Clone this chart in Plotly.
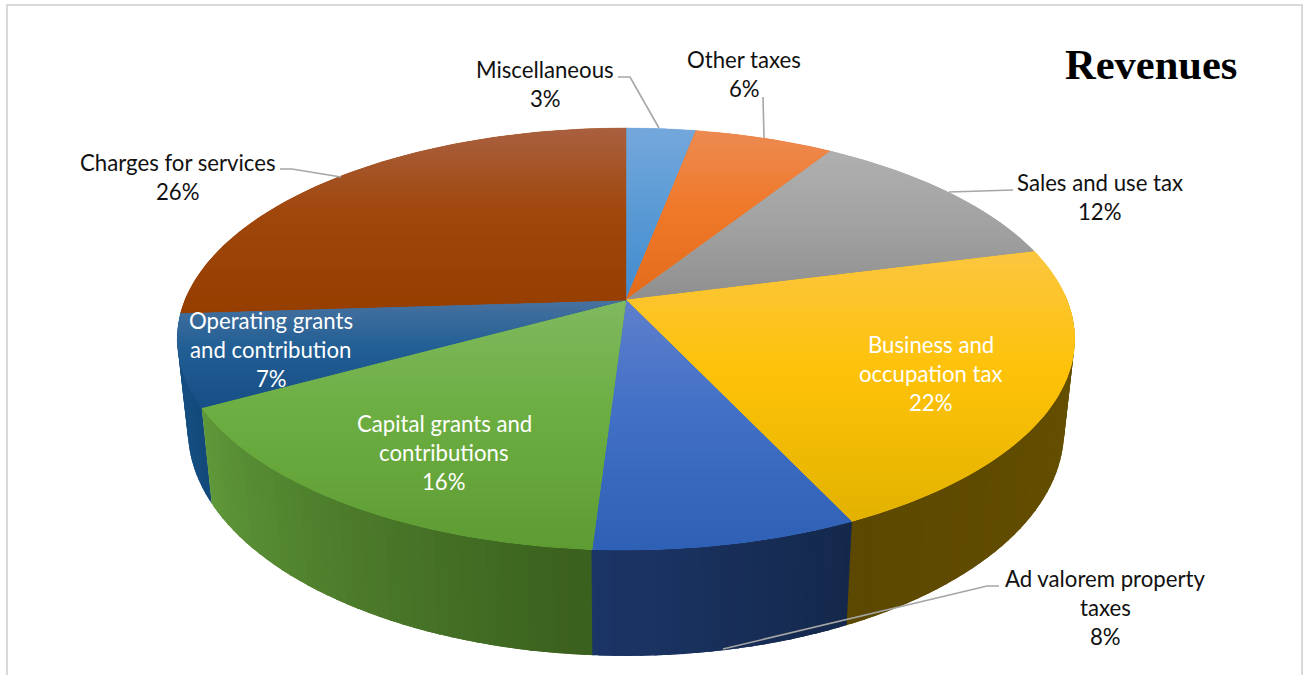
import numpy as np
import plotly.graph_objects as go

# Revenue shares, clockwise from twelve o'clock
categories = ["Miscellaneous", "Other taxes", "Sales and use tax", "Business and occupation tax",
              "Ad valorem property taxes", "Capital grants and contributions",
              "Operating grants and contribution", "Charges for services"]
shares = [3, 6, 12, 22, 8, 16, 7, 26]

label_lines = [["Miscellaneous"], ["Other taxes"], ["Sales and use tax"],
               ["Business and", "occupation tax"], ["Ad valorem property", "taxes"],
               ["Capital grants and", "contributions"], ["Operating grants", "and contribution"],
               ["Charges for services"]]
label_x = [545, 744, 1100, 931, 1105, 444, 271, 178]
label_y = [69, 59, 182, 344, 578, 423, 320, 162]
label_color = ["#111111", "#111111", "#111111", "#FFFFFF", "#111111", "#FFFFFF", "#FFFFFF", "#111111"]
LINE_STEP = 29.2

# Face gradient per slice: upper edge, middle, lower edge
face_top = ["#74A8DC", "#EC8A52", "#B0B0B0", "#FBC640", "#5F7FCC", "#80B95F", "#47729F", "#A9603F"]
face_mid = ["#5B9BD5", "#F0792A", "#A3A3A3", "#FEC208", "#4170C6", "#6CAE42", "#215E94", "#A0470C"]
face_low = ["#418BCE", "#E26C1B", "#8F8F8F", "#E2B200", "#2E60B5", "#5E9C33", "#174E86", "#963D00"]
# Rim gradient per slice, in clockwise order
wall_start = ["#3A6A96", "#A5561F", "#737373", "#6A5400", "#14284A", "#3A601D", "#134A7C", "#6B3006"]
wall_end = ["#3A6A96", "#A5561F", "#737373", "#5C4800", "#1B3567", "#60993A", "#175488", "#6B3006"]

leader_x = [[618, 630, 659], [763, 764], [1013, 949], [999, 987, 723], [280, 292, 341]]
leader_y = [[77, 77, 128], [97, 138], [190, 192], [586, 586, 649], [169, 169, 177]]

# Projection of the disc: perspective foreshortening toward the far edge
CX, K = 626, 0.1848
TOP_A, TOP_B, TOP_Y = 441, 203.8, 300
BASE_A, BASE_B, BASE_Y = 430.6, 218, 388.5


def project(theta, radius, a, b, y0):
    sx, cy = radius * np.sin(theta), radius * np.cos(theta)
    w = 1 + K * cy
    return CX + a * sx / w, y0 - b * cy / w


def rgb(hex_color):
    return np.array([int(hex_color[i:i + 2], 16) for i in (1, 3, 5)], float)


def mix(c0, c1, f):
    v = rgb(c0) * (1 - f) + rgb(c1) * f
    return "rgb({},{},{})".format(*[int(round(q)) for q in v])


def clip(poly, limit, keep_below):
    """Clip a polygon against a horizontal line."""
    out = []
    n = len(poly)
    for i in range(n):
        p, q = poly[i], poly[(i + 1) % n]
        p_in = p[1] >= limit if keep_below else p[1] <= limit
        q_in = q[1] >= limit if keep_below else q[1] <= limit
        if p_in:
            out.append(p)
        if p_in != q_in:
            f = (limit - p[1]) / (q[1] - p[1])
            out.append((p[0] + f * (q[0] - p[0]), limit))
    return out


def polygon(xs, ys, color, edge=0.0):
    return go.Scatter(x=list(xs) + [xs[0]], y=list(ys) + [ys[0]], mode="lines", fill="toself",
                      fillcolor=color, line=dict(color=color, width=edge),
                      hoverinfo="skip", showlegend=False)


def rim_quad(t0, t1, color):
    x0, y0 = project(t0, 1, TOP_A, TOP_B, TOP_Y)
    x1, y1 = project(t1, 1, TOP_A, TOP_B, TOP_Y)
    x2, y2 = project(t1, 1, BASE_A, BASE_B, BASE_Y)
    x3, y3 = project(t0, 1, BASE_A, BASE_B, BASE_Y)
    return polygon([x0, x1, x2, x3], [y0, y1, y2, y3], color)


edges = np.cumsum([0] + shares) / sum(shares) * 2 * np.pi
fig = go.Figure()

# Rim, back to front; every strip reaches over its neighbours inside the same slice
STEP = np.radians(1.5)
strips = []
for i in range(len(shares)):
    n = max(2, int((edges[i + 1] - edges[i]) / STEP))
    ts = np.linspace(edges[i], edges[i + 1], n + 1)
    for j in range(n):
        t0, t1 = ts[j], ts[j + 1]
        if np.cos((t0 + t1) / 2) < 0.05:
            t0x = max(edges[i] - 0.001, t0 - STEP * 0.6)
            t1x = min(edges[i + 1] + 0.001, t1 + STEP * 0.6)
            strips.append((np.cos((t0 + t1) / 2), t0x, t1x, mix(wall_start[i], wall_end[i], (j + 0.5) / n)))
for _, t0x, t1x, color in sorted(strips, key=lambda s: -s[0]):
    fig.add_trace(rim_quad(t0x, t1x, color))

# Top faces, each cut into thin horizontal bands for the vertical gradient
BAND = 2.0
OVERLAP = 2.0
for i in range(len(shares)):
    ts = np.linspace(edges[i], edges[i + 1], 90)
    ax, ay = project(ts, 1, TOP_A, TOP_B, TOP_Y)
    outline = [(CX, TOP_Y)] + list(zip(ax, ay))
    ymin, ymax = min(p[1] for p in outline), max(p[1] for p in outline)
    fig.add_trace(polygon([p[0] for p in outline], [p[1] for p in outline], face_mid[i], edge=0.4))
    y = ymin
    while y < ymax:
        band = clip(clip(outline, y, True), y + BAND + OVERLAP, False)
        if len(band) >= 3:
            f = (y + BAND / 2 - ymin) / (ymax - ymin)
            color = mix(face_top[i], face_mid[i], f / 0.45) if f < 0.45 else mix(face_mid[i], face_low[i], (f - 0.45) / 0.55)
            fig.add_trace(polygon([p[0] for p in band], [p[1] for p in band], color))
        y += BAND

# Leader lines to the outside labels
for lx, ly in zip(leader_x, leader_y):
    fig.add_trace(go.Scatter(x=lx, y=ly, mode="lines", line=dict(color="#A6A6A6", width=1.6),
                             hoverinfo="skip", showlegend=False))

# Data labels, one annotation per line so the leading stays exact
annotations = []
for i, lines in enumerate(label_lines):
    for j, text in enumerate(lines + [f"{shares[i]}%"]):
        annotations.append(dict(x=label_x[i], y=label_y[i] + j * LINE_STEP, text=text, showarrow=False,
                                xref="x", yref="y", xanchor="center", yanchor="middle",
                                font=dict(family="Lato", size=22.2, color=label_color[i])))
annotations.append(dict(x=1151, y=64, text="<b>Revenues</b>", showarrow=False, xref="x", yref="y",
                        xanchor="center", yanchor="middle",
                        font=dict(family="Liberation Serif", size=42.5, color="#000000")))

fig.update_layout(
    width=1304, height=675, margin=dict(l=0, r=0, t=0, b=0),
    paper_bgcolor="#FFFFFF", plot_bgcolor="#FFFFFF", showlegend=False, annotations=annotations,
    xaxis=dict(range=[0, 1304], visible=False, fixedrange=True),
    yaxis=dict(range=[675, 0], visible=False, fixedrange=True),
    shapes=[dict(type="rect", x0=7, y0=5, x1=1302, y1=720, xref="x", yref="y", layer="below",
                 line=dict(color="#D9D9D9", width=2))],
)
fig.write_html("out.html", config=dict(displayModeBar=False))
